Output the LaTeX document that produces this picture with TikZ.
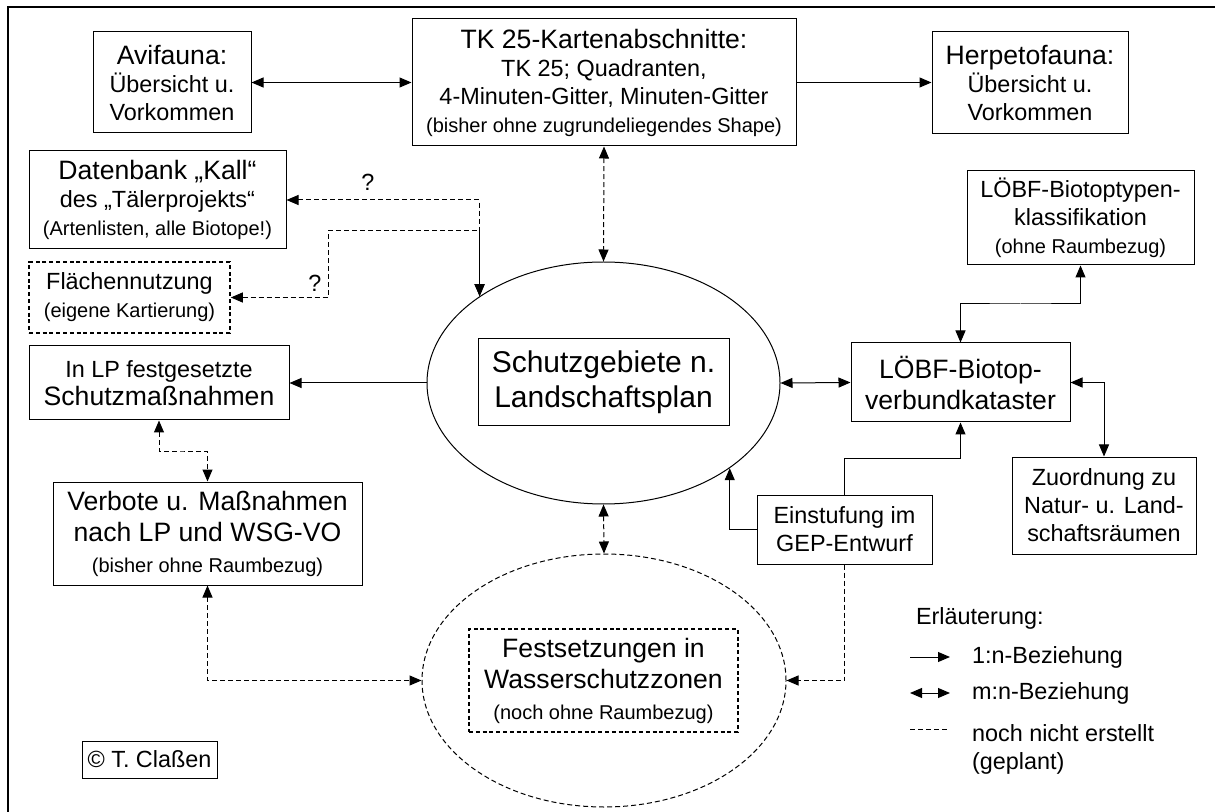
\documentclass[tikz,border=0pt]{standalone}
\usepackage{fontspec}
\setmainfont{Liberation Sans}
\usetikzlibrary{arrows.meta,positioning,calc,shapes.geometric}
\newcommand\szXL{\fontsize{15}{17.5}\selectfont}
\newcommand\szL{\fontsize{13.3}{15.5}\selectfont}
\newcommand\szM{\fontsize{11.7}{14}\selectfont}
\newcommand\szS{\fontsize{10}{13.5}\selectfont}
\begin{document}
\begin{tikzpicture}[x=0.5pt,y=-0.5pt,
  box/.style={draw,line width=0.5pt,align=center,inner sep=0pt,font=\szM},
  dbox/.style={box,line width=0.8pt,dash pattern=on 2pt off 1.4pt},
  oval/.style={draw,ellipse,line width=0.5pt,inner sep=0pt},
  arr/.style={-{Triangle[length=6pt,width=5pt]},line width=0.5pt},
  biarr/.style={{Triangle[length=6pt,width=5pt]}-{Triangle[length=6pt,width=5pt]},line width=0.5pt},
  plan/.style={dash pattern=on 2.5pt off 1.5pt}]
\useasboundingbox (0,0) rectangle (1215,812);
\draw[line width=1pt] (1215,7) -| (8,812);
% top row
\node[box,minimum width=79pt,minimum height=50.5pt] (avi) at (172,82.5)
  {\szL Avifauna:\\ Übersicht u.\\ Vorkommen};
\node[box,minimum width=192pt,minimum height=63.5pt] (tk) at (604,82.5)
  {\szL TK 25-Kartenabschnitte:\\ TK 25; Quadranten,\\ 4-Minuten-Gitter, Minuten-Gitter\\ \szS (bisher ohne zugrundeliegendes Shape)};
\node[box,minimum width=98pt,minimum height=51pt] (herp) at (1030,83)
  {\szL Herpetofauna:\\ Übersicht u.\\ Vorkommen};
% left column
\node[box,minimum width=128.5pt,minimum height=49pt] (dbk) at (157.5,200)
  {\szL Datenbank „Kall“\\ des „Tälerprojekts“\\ \szS (Artenlisten, alle Biotope!)};
\node[dbox,minimum width=100.5pt,minimum height=35.5pt] (flae) at (129.5,297.5)
  {Flächennutzung\\ \szS (eigene Kartierung)};
\node[box,minimum width=130pt,minimum height=37pt] (lpm) at (159,383)
  {In LP festgesetzte\\ \szL Schutzmaßnahmen};
\node[box,font=\szL,minimum width=154.5pt,minimum height=51.5pt] (vbo) at (207.5,533.5)
  {Verbote u. Maßnahmen\\ nach LP und WSG-VO\\ \szS (bisher ohne Raumbezug)};
\node[box,minimum width=67.5pt,minimum height=18.5pt] (copy) at (149.5,759.5) {© T. Claßen};
% centre
\node[oval,minimum width=176.5pt,minimum height=121pt] (sgl) at (603.5,383) {};
\node[box,font=\szXL,minimum width=125.5pt,minimum height=43.5pt] (sglbox) at (603.5,382.5)
  {Schutzgebiete n.\\ Landschaftsplan};
\node[oval,plan,minimum width=182pt,minimum height=126.5pt] (wsz) at (604,680.5) {};
\node[dbox,font=\szL,minimum width=134.5pt,minimum height=51.5pt] (wszbox) at (603.5,680.5)
  {Festsetzungen in\\ Wasserschutzzonen\\ \szS (noch ohne Raumbezug)};
% right column
\node[box,minimum width=113.5pt,minimum height=47pt] (typ) at (1080.5,218)
  {LÖBF-Biotoptypen-\\ klassifikation\\ \szS (ohne Raumbezug)};
\node[box,font=\szL,minimum width=109.5pt,minimum height=39.5pt] (kat) at (960.5,382.5)
  {LÖBF-Biotop-\\ verbundkataster};
\node[box,minimum width=92pt,minimum height=48.5pt] (zuo) at (1104,505.5)
  {Zuordnung zu\\ Natur- u. Land-\\ schaftsräumen};
\node[box,minimum width=87.5pt,minimum height=34.5pt] (gep) at (844.5,529.5)
  {Einstufung im\\ GEP-Entwurf};
% question marks
\node[font=\szM] (q1) at (368,182) {?};
\node[font=\szM] (q2) at (315,283) {?};
\coordinate (flaebend) at (328,231);
% connectors
\draw[biarr] (avi) -- (tk);
\draw[arr] (tk.east) -- (herp.west |- tk.east);
\draw[biarr,plan] (tk.south) -- (sgl.north);
\draw[biarr,plan] (dbk.east) -| (sgl.145);
\draw[biarr,plan] (flae.east) -| (flaebend) -| (sgl.145);
\draw[arr] (sgl.west) -- (lpm.east);
\draw[biarr,plan] (lpm.south) |- ($(lpm.south)!.5!(vbo.north)$) -| (vbo.north);
\draw[biarr,plan] (vbo.south) |- (wsz.west);
\draw[biarr,plan] (sgl.south) -- (wsz.north);
\draw[biarr] (sgl.east) -- (kat.west);
\draw[biarr] (kat.north) |- ($(kat.north)!.5!(typ.south)$) -| (typ.south);
\draw[biarr] (kat.east) -| (zuo.north);
\draw[arr] (gep.west) -| (sgl.-34);
\draw[arr] (gep.north) |- ($(gep.north)!.5!(kat.south)$) -| (kat.south);
\draw[arr,plan] (gep.south) |- (wsz.east);
% legend
\node[font=\szM,anchor=west] (leg) at (909,618) {Erläuterung:};
\coordinate (l1a) at (910,657); \coordinate (l1b) at (950,657);
\coordinate (l2a) at (910,693); \coordinate (l2b) at (950,693);
\coordinate (l3a) at (910,729); \coordinate (l3b) at (950,729);
\draw[arr] (l1a) -- (l1b);
\draw[biarr] (l2a) -- (l2b);
\draw[plan,line width=0.5pt] (l3a) -- (l3b);
\node[font=\szM,right=7.5pt of l1b] (t1) {1:n-Beziehung};
\node[font=\szM,right=7.5pt of l2b] (t2) {m:n-Beziehung};
\node[font=\szM,align=left,anchor=north west] (t3) at ($(l3b)+(15,-12)$) {noch nicht erstellt\\(geplant)};
\end{tikzpicture}
\end{document}
